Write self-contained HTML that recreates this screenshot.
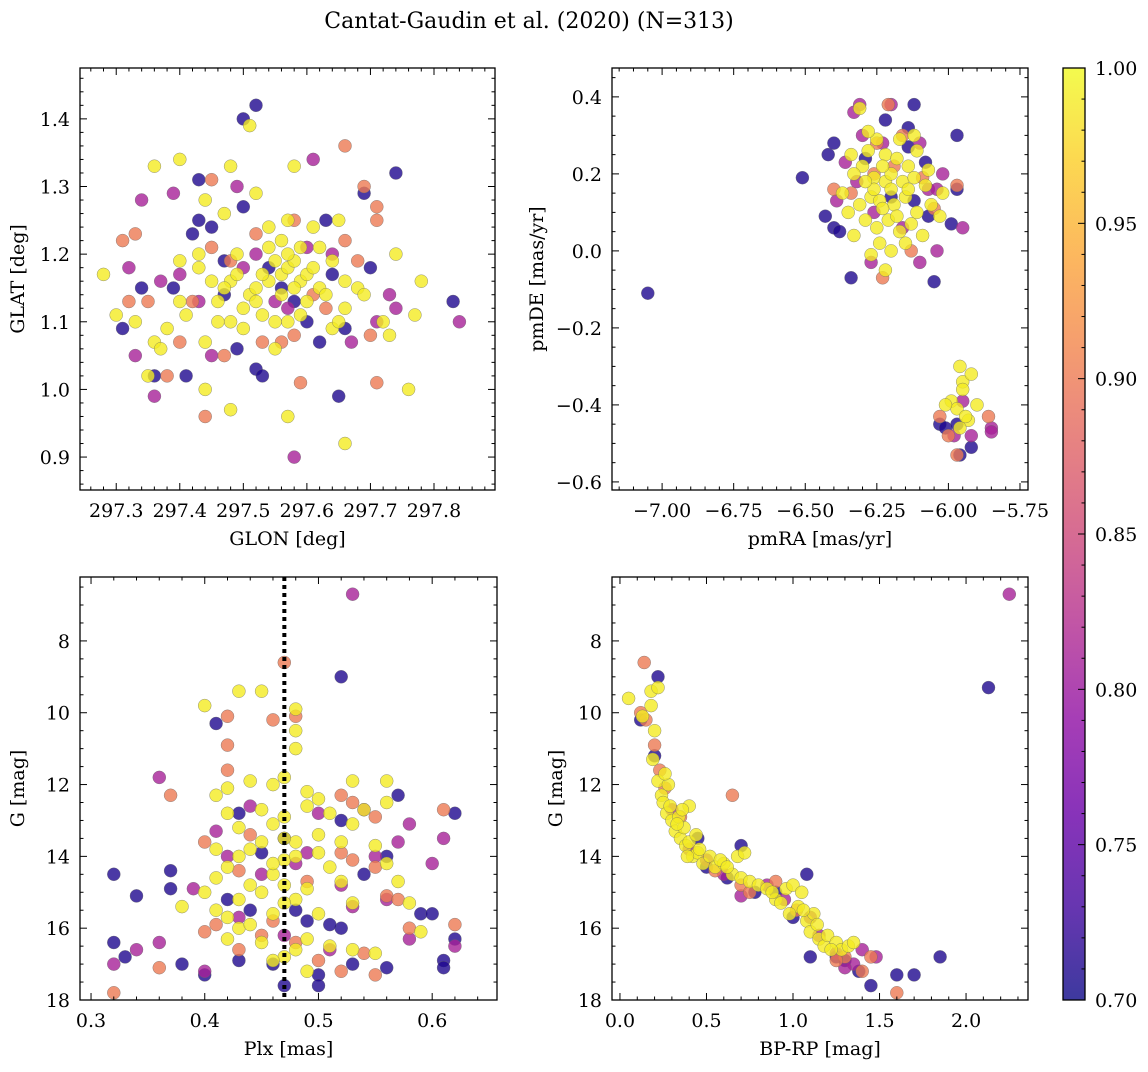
<!DOCTYPE html>
<html><head><meta charset="utf-8"><style>
html,body{margin:0;padding:0;background:#fff;}
svg text{font-family:"DejaVu Serif","Liberation Serif",serif;fill:#000;}
</style></head><body>
<svg id="fig" width="1148" height="1067" viewBox="0 0 1148 1067" xmlns="http://www.w3.org/2000/svg">
<text x="529" y="28" font-size="22" text-anchor="middle">Cantat-Gaudin et al. (2020) (N=313)</text>
</svg>
<script>
// ---- Probability levels ----
const probLevels = [0.71, 0.81, 0.90, 0.99];
// ---- Top-left: GLON / GLAT ----
const tlNavy = [[297.52,1.42],[297.50,1.40],[297.43,1.31],[297.43,1.25],[297.45,1.24],[297.74,1.32],[297.50,1.27],[297.63,1.25],[297.34,1.15],[297.36,1.02],[297.41,1.02],[297.52,1.03],[297.53,1.02],[297.62,1.07],[297.65,0.99],[297.69,1.29],[297.83,1.13],[297.49,1.06],[297.66,1.09],[297.54,1.18],[297.58,1.13],[297.60,1.10],[297.56,1.15],[297.31,1.09],[297.39,1.15],[297.47,1.14],[297.64,1.17],[297.70,1.18],[297.42,1.23],[297.47,1.19]];
const tlPurple = [[297.34,1.28],[297.39,1.29],[297.61,1.34],[297.49,1.30],[297.36,0.99],[297.58,0.90],[297.84,1.10],[297.74,1.12],[297.73,1.14],[297.40,1.17],[297.33,1.05],[297.43,1.13],[297.52,1.20],[297.64,1.20],[297.55,1.13],[297.37,1.16],[297.60,1.21],[297.32,1.18],[297.67,1.07],[297.57,1.12],[297.45,1.05],[297.71,1.10],[297.50,1.18]];
const tlOrange = [[297.66,1.36],[297.45,1.31],[297.31,1.22],[297.33,1.23],[297.69,1.30],[297.71,1.27],[297.71,1.25],[297.44,0.96],[297.59,1.01],[297.71,1.01],[297.38,1.02],[297.40,1.07],[297.35,1.13],[297.42,1.13],[297.45,1.21],[297.66,1.22],[297.68,1.19],[297.61,1.14],[297.53,1.07],[297.56,1.07],[297.52,1.23],[297.48,1.19],[297.58,1.25],[297.63,1.12],[297.47,1.05],[297.32,1.13],[297.70,1.08],[297.58,1.08]];
const tlYellow = [[297.51,1.39],[297.40,1.34],[297.36,1.33],[297.58,1.33],[297.48,1.33],[297.44,1.28],[297.52,1.29],[297.57,1.25],[297.54,1.24],[297.47,1.26],[297.61,1.24],[297.65,1.25],[297.28,1.17],[297.30,1.11],[297.33,1.10],[297.36,1.07],[297.38,1.09],[297.35,1.02],[297.44,1.00],[297.48,0.97],[297.57,0.96],[297.66,0.92],[297.76,1.00],[297.77,1.11],[297.74,1.20],[297.78,1.16],[297.72,1.10],[297.73,1.08],[297.66,1.12],[297.64,1.09],[297.40,1.13],[297.40,1.19],[297.43,1.20],[297.43,1.18],[297.44,1.07],[297.46,1.10],[297.48,1.10],[297.50,1.09],[297.51,1.14],[297.53,1.11],[297.55,1.10],[297.54,1.16],[297.56,1.17],[297.57,1.18],[297.58,1.19],[297.59,1.16],[297.60,1.17],[297.57,1.20],[297.55,1.19],[297.53,1.17],[297.52,1.15],[297.56,1.14],[297.58,1.15],[297.59,1.21],[297.61,1.18],[297.62,1.15],[297.63,1.14],[297.60,1.13],[297.56,1.22],[297.54,1.21],[297.48,1.16],[297.49,1.17],[297.47,1.15],[297.45,1.16],[297.46,1.13],[297.50,1.12],[297.52,1.13],[297.62,1.21],[297.64,1.19],[297.66,1.16],[297.68,1.15],[297.59,1.11],[297.57,1.10],[297.55,1.06],[297.49,1.20],[297.41,1.11],[297.37,1.06],[297.65,1.10],[297.69,1.14]];
// ---- Top-right: pmRA / pmDE ----
const trNavy = [[-7.05,-0.11],[-6.51,0.19],[-6.42,0.25],[-6.40,0.28],[-6.12,0.38],[-6.22,0.34],[-6.34,-0.07],[-6.05,-0.08],[-5.97,0.30],[-6.07,0.09],[-5.99,0.07],[-5.97,0.16],[-6.43,0.09],[-6.40,0.06],[-6.08,0.23],[-6.14,0.27],[-6.29,0.24],[-6.20,0.14],[-6.03,-0.45],[-6.01,-0.46],[-5.92,-0.51],[-5.96,-0.53],[-5.97,-0.45],[-6.14,0.32],[-6.38,0.05],[-6.12,0.13]];
const trPurple = [[-6.31,0.38],[-6.20,0.38],[-6.33,0.36],[-6.10,0.28],[-6.23,0.28],[-6.36,0.23],[-6.07,0.16],[-6.04,0.00],[-6.10,-0.03],[-6.27,-0.03],[-5.95,0.06],[-5.92,-0.48],[-5.85,-0.46],[-5.85,-0.47],[-5.98,-0.48],[-5.95,-0.39],[-6.02,0.20],[-6.32,0.18],[-6.16,0.06],[-6.39,0.13],[-6.26,0.10],[-6.04,0.16],[-6.30,0.30]];
const trOrange = [[-6.21,0.38],[-6.23,-0.07],[-6.16,0.30],[-6.40,0.16],[-6.34,0.15],[-6.09,0.19],[-5.97,0.17],[-6.03,-0.43],[-6.00,-0.48],[-5.86,-0.43],[-5.97,-0.53],[-6.26,0.20],[-6.19,0.22],[-6.13,0.00],[-6.25,0.28],[-6.05,0.11]];
const trYellow = [[-6.31,0.37],[-6.25,0.29],[-6.28,0.26],[-6.22,0.25],[-6.18,0.24],[-6.14,0.22],[-6.30,0.22],[-6.33,0.20],[-6.26,0.19],[-6.22,0.18],[-6.20,0.20],[-6.16,0.18],[-6.12,0.19],[-6.08,0.17],[-6.37,0.15],[-6.35,0.10],[-6.31,0.12],[-6.27,0.14],[-6.24,0.13],[-6.19,0.12],[-6.15,0.14],[-6.11,0.10],[-6.06,0.12],[-6.02,0.15],[-6.29,0.08],[-6.25,0.06],[-6.21,0.08],[-6.17,0.05],[-6.13,0.07],[-6.09,0.04],[-6.24,0.02],[-6.20,0.00],[-6.15,0.02],[-6.27,-0.01],[-6.22,-0.05],[-6.33,0.04],[-6.28,0.31],[-6.17,0.29],[-6.34,0.25],[-6.12,0.30],[-6.03,0.09],[-6.07,0.21],[-6.20,0.16],[-6.26,0.16],[-6.14,0.16],[-6.29,0.18],[-6.23,0.22],[-6.18,0.09],[-5.96,-0.30],[-5.95,-0.34],[-5.92,-0.32],[-5.95,-0.36],[-5.99,-0.39],[-5.97,-0.41],[-5.93,-0.44],[-5.96,-0.46],[-5.90,-0.40],[-6.01,-0.40],[-5.94,-0.43],[-6.23,0.11],[-6.11,0.26]];
// ---- Bottom-left: Plx / G ----
const blNavy = [[0.32,14.5],[0.32,16.4],[0.33,16.8],[0.34,15.1],[0.37,14.4],[0.37,14.9],[0.38,17.0],[0.40,17.3],[0.41,10.3],[0.42,15.2],[0.43,16.9],[0.43,12.8],[0.46,17.0],[0.47,17.6],[0.48,15.5],[0.52,9.0],[0.52,16.0],[0.50,17.3],[0.50,17.6],[0.53,17.0],[0.56,14.0],[0.56,17.1],[0.57,12.3],[0.59,15.6],[0.60,15.6],[0.61,16.9],[0.61,17.1],[0.62,12.8],[0.62,16.3],[0.54,14.5],[0.47,13.5],[0.49,15.8],[0.44,15.5],[0.51,15.9],[0.45,13.9],[0.52,13.0]];
const blPurple = [[0.53,6.7],[0.36,11.8],[0.32,17.0],[0.34,16.6],[0.39,14.9],[0.40,17.2],[0.36,16.4],[0.42,14.0],[0.55,14.0],[0.58,13.1],[0.60,14.2],[0.61,13.5],[0.62,16.5],[0.58,16.3],[0.56,15.2],[0.54,12.7],[0.53,15.4],[0.45,14.5],[0.43,15.7],[0.48,14.2],[0.50,12.8],[0.47,16.2],[0.41,13.3],[0.44,12.6],[0.49,13.9],[0.51,16.6],[0.57,13.6],[0.52,14.8]];
const blOrange = [[0.32,17.8],[0.36,17.1],[0.37,12.3],[0.42,10.1],[0.42,10.9],[0.42,11.6],[0.40,16.1],[0.41,15.9],[0.43,16.6],[0.46,10.2],[0.47,8.6],[0.48,10.1],[0.52,12.3],[0.53,12.5],[0.55,12.9],[0.56,15.1],[0.57,15.2],[0.58,16.0],[0.61,12.7],[0.62,15.9],[0.52,17.2],[0.55,17.3],[0.48,16.4],[0.44,13.4],[0.46,15.8],[0.52,13.9],[0.55,14.3],[0.49,14.7],[0.50,16.9],[0.54,16.7],[0.45,16.2],[0.53,14.1],[0.40,13.6],[0.43,14.4]];
const blYellow = [[0.40,9.8],[0.43,9.4],[0.45,9.4],[0.48,9.9],[0.47,11.8],[0.48,11.0],[0.48,10.5],[0.41,12.3],[0.42,12.1],[0.44,11.9],[0.46,12.0],[0.49,12.2],[0.45,12.7],[0.42,12.8],[0.43,13.2],[0.46,13.1],[0.49,12.6],[0.50,12.4],[0.51,12.8],[0.53,11.9],[0.54,12.7],[0.56,12.5],[0.56,11.9],[0.55,13.7],[0.57,14.7],[0.58,15.3],[0.59,16.1],[0.55,16.7],[0.53,15.3],[0.51,14.3],[0.52,14.7],[0.50,13.4],[0.48,13.6],[0.47,14.1],[0.46,14.5],[0.44,14.8],[0.42,14.3],[0.41,14.6],[0.40,15.0],[0.38,15.4],[0.41,15.5],[0.43,15.2],[0.45,15.0],[0.46,15.6],[0.48,15.2],[0.49,14.9],[0.50,15.6],[0.47,14.8],[0.47,15.3],[0.47,16.8],[0.48,16.6],[0.49,16.3],[0.45,16.4],[0.43,16.0],[0.42,16.3],[0.44,13.8],[0.45,13.6],[0.47,13.5],[0.46,14.2],[0.43,14.0],[0.41,13.8],[0.50,13.9],[0.52,13.6],[0.51,16.5],[0.53,16.6],[0.49,17.2],[0.53,13.1],[0.47,12.9],[0.44,15.9],[0.48,14.0],[0.46,16.9],[0.42,15.7],[0.56,14.2]];
// ---- Bottom-right: BP-RP / G ----
const brNavy = [[2.13,9.3],[0.22,9.0],[0.12,10.2],[1.85,16.8],[1.70,17.3],[1.60,17.3],[1.45,17.6],[1.08,14.5],[1.10,16.8],[1.25,16.8],[0.70,13.7],[0.62,14.6],[0.78,15.0],[0.20,11.2],[0.45,13.5],[1.30,16.9],[1.38,17.2],[0.90,15.0],[0.50,14.3],[1.00,15.7]];
const brPurple = [[2.25,6.7],[0.30,12.7],[0.40,13.8],[0.60,14.5],[0.85,14.8],[1.10,15.7],[1.25,16.7],[1.35,17.0],[1.40,16.6],[1.48,16.8],[0.95,15.2],[1.15,16.2],[0.50,14.1],[0.70,15.1],[1.30,17.1]];
const brOrange = [[0.14,8.6],[0.65,12.3],[0.12,10.0],[0.15,10.2],[0.20,10.9],[0.23,11.6],[0.26,12.1],[0.35,12.9],[0.70,14.8],[0.75,15.0],[1.02,15.5],[1.30,16.8],[1.40,17.2],[1.45,16.8],[1.60,17.8],[0.90,14.7],[1.25,16.9],[0.55,14.4]];
const brYellow = [[0.05,9.6],[0.13,10.1],[0.18,9.4],[0.22,9.3],[0.18,9.8],[0.20,10.5],[0.19,11.3],[0.22,11.9],[0.24,12.3],[0.25,12.5],[0.27,12.8],[0.29,12.6],[0.30,13.0],[0.32,13.3],[0.34,12.9],[0.35,13.5],[0.37,13.2],[0.38,13.7],[0.40,13.6],[0.40,12.6],[0.42,14.0],[0.45,13.9],[0.48,14.2],[0.52,14.0],[0.55,14.3],[0.60,14.2],[0.65,14.5],[0.68,14.0],[0.70,14.6],[0.72,13.9],[0.75,14.7],[0.80,14.8],[0.85,14.9],[0.90,15.2],[0.93,15.3],[0.96,14.9],[1.00,14.8],[1.03,15.4],[1.05,15.0],[1.08,15.8],[1.10,16.1],[1.12,15.6],[1.15,16.3],[1.18,16.5],[1.20,16.2],[1.25,16.4],[1.28,16.6],[1.32,16.5],[1.35,16.4],[0.98,15.6],[0.88,15.0],[0.58,14.1],[0.44,13.4],[0.36,12.7],[0.28,12.0],[0.26,11.7],[0.33,13.1],[0.39,14.0],[0.46,13.8],[0.62,14.3],[1.22,16.6],[1.14,15.9],[1.06,15.5]];
// ---- Tick labels ----
const tlXTicks = [297.3,297.4,297.5,297.6,297.7,297.8];
const tlYTicks = [0.9,1.0,1.1,1.2,1.3,1.4];
const trXTicks = [-7.00,-6.75,-6.50,-6.25,-6.00,-5.75];
const trYTicks = [-0.6,-0.4,-0.2,0.0,0.2,0.4];
const blXTicks = [0.3,0.4,0.5,0.6];
const gTicks = [8,10,12,14,16,18];
const brXTicks = [0.0,0.5,1.0,1.5,2.0];
const cbTicks = [0.70,0.75,0.80,0.85,0.90,0.95,1.00];
const plxCut = 0.47;

const NS = "http://www.w3.org/2000/svg";
const svg = document.getElementById('fig');
function el(tag, attrs, parent){const e=document.createElementNS(NS,tag);for(const k in attrs)e.setAttribute(k,attrs[k]);(parent||svg).appendChild(e);return e;}

const plasmaStops=[[13,8,135],[65,4,157],[106,0,168],[143,13,164],[177,42,144],[204,71,120],[225,100,98],[242,132,75],[252,166,54],[252,206,37],[240,249,33]];
function plasma(t){t=Math.max(0,Math.min(1,t));const f=t*10,i=Math.min(9,Math.floor(f)),r=f-i;const a=plasmaStops[i],b=plasmaStops[i+1];return 'rgb('+a.map((v,k)=>Math.round(v+(b[k]-v)*r)).join(',')+')';}
function pcol(p){return plasma((p-0.7)/0.3);}

function fmt(v,d){const s=Math.abs(v).toFixed(d);return (v<0?'\u2212':'')+s;}
const FS=19;

function panel(cfg){
  const {name,L,R,T,B,xmin,xmax,ymin,ymax,yinv,xt,yt,xd,yd,xminor,yminor,xlabel,ylabel,ylabelX,groups}=cfg;
  const g=el('g',{});
  
  
  const sx=v=>L+(v-xmin)/(xmax-xmin)*(R-L);
  const sy=v=>yinv? T+(v-ymin)/(ymax-ymin)*(B-T) : B-(v-ymin)/(ymax-ymin)*(B-T);
  const clipId='clip-'+name;
  const cp=el('clipPath',{id:clipId},g);el('rect',{x:L,y:T,width:R-L,height:B-T},cp);
  const pts=el('g',{'clip-path':'url(#'+clipId+')'},g);
  
  
  groups.forEach(([arr,p])=>{
    arr.forEach(d=>{
      const c=el('circle',{cx:sx(d[0]).toFixed(1),cy:sy(d[1]).toFixed(1),r:6.5,fill:pcol(p),'fill-opacity':0.8,stroke:'#666','stroke-opacity':0.7,'stroke-width':0.5},pts);
      
      
    });
  });
  if(cfg.vline!==undefined){
    const ln=el('line',{x1:sx(cfg.vline),x2:sx(cfg.vline),y1:T,y2:B,stroke:'#000','stroke-width':4,'stroke-dasharray':'4 4'},g);
    
    
  }
  el('rect',{x:L,y:T,width:R-L,height:B-T,fill:'none',stroke:'#000','stroke-width':1.3},g);
  const tk=el('g',{stroke:'#000','stroke-width':1},g);
  const lo=Math.min(xmin,xmax),hi=Math.max(xmin,xmax);
  for(let v=Math.ceil(lo/xminor-1e-6)*xminor; v<=hi+1e-9; v+=xminor){
    const isMaj=xt.some(t=>Math.abs(t-v)<xminor/10);const len=isMaj?7:3.5;const x=sx(v);
    el('line',{x1:x,x2:x,y1:B,y2:B-len},tk);el('line',{x1:x,x2:x,y1:T,y2:T+len},tk);
  }
  const ylo=Math.min(ymin,ymax),yhi=Math.max(ymin,ymax);
  for(let v=Math.ceil(ylo/yminor-1e-6)*yminor; v<=yhi+1e-9; v+=yminor){
    const isMaj=yt.some(t=>Math.abs(t-v)<yminor/10);const len=isMaj?7:3.5;const y=sy(v);
    el('line',{x1:L,x2:L+len,y1:y,y2:y},tk);el('line',{x1:R,x2:R-len,y1:y,y2:y},tk);
  }
  xt.forEach(v=>{const t=el('text',{x:sx(v),y:B+27,'font-size':FS,'text-anchor':'middle'},g);t.textContent=fmt(v,xd);
    
    });
  yt.forEach(v=>{const t=el('text',{x:L-10,y:sy(v)+7,'font-size':FS,'text-anchor':'end'},g);t.textContent=fmt(v,yd);
    
    });
  const xl=el('text',{x:(L+R)/2,y:B+55,'font-size':FS,'text-anchor':'middle'},g);xl.textContent=xlabel;
  
  
  const yc=(T+B)/2;
  const yl=el('text',{x:ylabelX,y:yc,'font-size':FS,'text-anchor':'middle',transform:'rotate(-90 '+ylabelX+' '+yc+')'},g);yl.textContent=ylabel;
  
  
}
function grp(a,b,c,d){return [[a,probLevels[0]],[b,probLevels[1]],[c,probLevels[2]],[d,probLevels[3]]];}

panel({name:'glon-glat-panel',L:80,R:495,T:68,B:490,xmin:297.243,xmax:297.896,ymin:0.8513,ymax:1.4752,xt:tlXTicks,yt:tlYTicks,xd:1,yd:1,xminor:0.02,yminor:0.02,xlabel:'GLON [deg]',ylabel:'GLAT [deg]',ylabelX:24,groups:grp(tlNavy,tlPurple,tlOrange,tlYellow)});
panel({name:'proper-motion-panel',L:612,R:1028,T:68,B:490,xmin:-7.175,xmax:-5.722,ymin:-0.621,ymax:0.475,xt:trXTicks,yt:trYTicks,xd:2,yd:1,xminor:0.05,yminor:0.05,xlabel:'pmRA [mas/yr]',ylabel:'pmDE [mas/yr]',ylabelX:543,groups:grp(trNavy,trPurple,trOrange,trYellow)});
panel({name:'plx-g-panel',L:80,R:497,T:577,B:1000,xmin:0.2903,xmax:0.657,ymin:6.22,ymax:18,yinv:true,xt:blXTicks,yt:gTicks,xd:1,yd:0,xminor:0.02,yminor:0.5,xlabel:'Plx [mas]',ylabel:'G [mag]',ylabelX:24,vline:plxCut,groups:grp(blNavy,blPurple,blOrange,blYellow)});
panel({name:'cmd-panel',L:612,R:1028,T:577,B:1000,xmin:-0.046,xmax:2.358,ymin:6.22,ymax:18,yinv:true,xt:brXTicks,yt:gTicks,xd:1,yd:0,xminor:0.1,yminor:0.5,xlabel:'BP-RP [mag]',ylabel:'G [mag]',ylabelX:562,groups:grp(brNavy,brPurple,brOrange,brYellow)});

(function(){
  const L=1063,R=1085,T=68,B=1000;
  const g=el('g',{});
  
  
  const defs=el('defs',{},g);
  const lg=el('linearGradient',{id:'cbg',x1:0,y1:1,x2:0,y2:0},defs);
  for(let i=0;i<=20;i++){el('stop',{offset:(i/20),'stop-color':plasma(i/20),'stop-opacity':0.8},lg);}
  el('rect',{x:L,y:T,width:R-L,height:B-T,fill:'url(#cbg)'},g);
  el('rect',{x:L,y:T,width:R-L,height:B-T,fill:'none',stroke:'#000','stroke-width':1.3},g);
  const sy=v=>B-(v-0.7)/0.3*(B-T);
  for(let k=70;k<=100;k++){const v=k/100;const maj=(k%5===0);const y=sy(v);
    el('line',{x1:R,x2:R-(maj?7:3.5),y1:y,y2:y,stroke:'#000','stroke-width':1},g);}
  cbTicks.forEach(v=>{const t=el('text',{x:R+10,y:sy(v)+7,'font-size':FS},g);t.textContent=v.toFixed(2);
    
    });
})();
</script>
</body></html>
